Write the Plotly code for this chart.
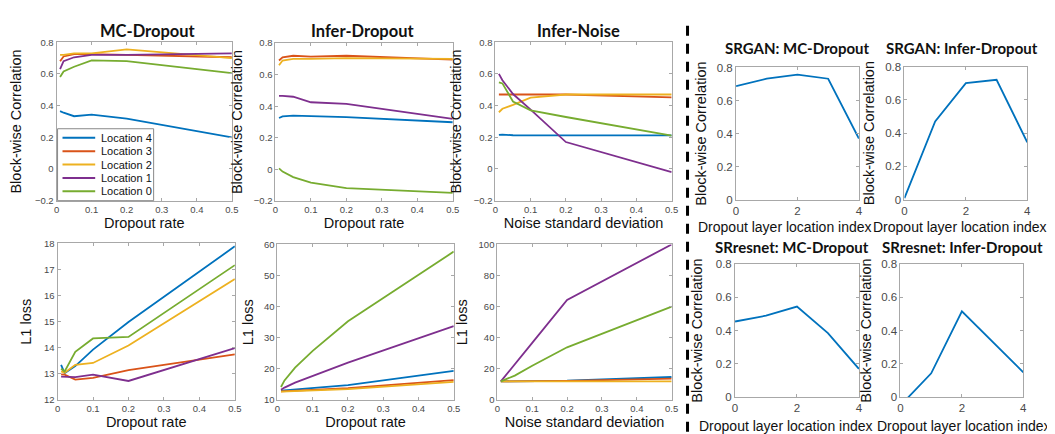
import plotly.graph_objects as go

W, H = 1055, 434

# ---------------- data ----------------
RATES = [0.01, 0.02, 0.05, 0.1, 0.2, 0.5]
NOISE_STD = [0.01, 0.02, 0.05, 0.1, 0.2, 0.5]
LOCATIONS = ["Location 4", "Location 3", "Location 2", "Location 1", "Location 0"]
COLORS = ["#0072BD", "#D95319", "#EDB120", "#7E2F8E", "#77AC30"]

MC_CORR_LOC4 = [0.365, 0.355, 0.333, 0.343, 0.318, 0.20]
MC_CORR_LOC3 = [0.68, 0.71, 0.725, 0.725, 0.72, 0.705]
MC_CORR_LOC2 = [0.72, 0.72, 0.73, 0.73, 0.755, 0.70]
MC_CORR_LOC1 = [0.63, 0.68, 0.705, 0.72, 0.72, 0.73]
MC_CORR_LOC0 = [0.58, 0.615, 0.645, 0.685, 0.68, 0.605]

ID_CORR_LOC4 = [0.325, 0.335, 0.34, 0.337, 0.33, 0.298]
ID_CORR_LOC3 = [0.69, 0.71, 0.72, 0.715, 0.72, 0.695]
ID_CORR_LOC2 = [0.66, 0.69, 0.70, 0.70, 0.705, 0.70]
ID_CORR_LOC1 = [0.465, 0.465, 0.46, 0.425, 0.415, 0.32]
ID_CORR_LOC0 = [0.005, -0.015, -0.05, -0.085, -0.12, -0.15]

IN_CORR_LOC4 = [0.215, 0.217, 0.213, 0.212, 0.212, 0.212]
IN_CORR_LOC3 = [0.47, 0.47, 0.47, 0.47, 0.47, 0.452]
IN_CORR_LOC2 = [0.358, 0.38, 0.405, 0.45, 0.47, 0.47]
IN_CORR_LOC1 = [0.60, 0.56, 0.473, 0.375, 0.17, -0.02]
IN_CORR_LOC0 = [0.546, 0.54, 0.426, 0.37, 0.328, 0.21]

MC_L1_LOC4 = [13.35, 13.03, 13.3, 13.93, 14.99, 17.89]
MC_L1_LOC3 = [12.98, 12.97, 12.78, 12.85, 13.15, 13.75]
MC_L1_LOC2 = [13.1, 13.05, 13.35, 13.42, 14.09, 16.64]
MC_L1_LOC1 = [12.9, 12.9, 12.88, 12.97, 12.73, 13.99]
MC_L1_LOC0 = [13.2, 13.1, 13.85, 14.36, 14.42, 17.17]

ID_L1_LOC4 = [13.0, 13.1, 13.4, 13.8, 14.8, 19.4]
ID_L1_LOC3 = [12.8, 12.85, 12.95, 13.2, 13.8, 16.4]
ID_L1_LOC2 = [12.7, 12.75, 12.85, 13.0, 13.5, 15.8]
ID_L1_LOC1 = [13.3, 14.0, 15.6, 17.8, 22.0, 33.75]
ID_L1_LOC0 = [14.2, 16.3, 20.4, 25.8, 35.3, 57.7]

IN_L1_LOC4 = [12.0, 12.0, 12.1, 12.2, 12.4, 14.8]
IN_L1_LOC3 = [12.0, 12.0, 12.0, 12.1, 12.3, 13.8]
IN_L1_LOC2 = [12.0, 12.0, 12.0, 12.0, 12.0, 12.0]
IN_L1_LOC1 = [12.0, 14.7, 23.0, 36.7, 64.4, 100.0]
IN_L1_LOC0 = [12.0, 13.0, 15.7, 22.0, 33.9, 60.0]

LAYER_INDEX = [0, 1, 2, 3, 4]
SRGAN_MC = [0.687, 0.732, 0.757, 0.732, 0.37]
SRGAN_INFER = [0.01, 0.47, 0.70, 0.72, 0.345]
SRRESNET_MC = [0.454, 0.489, 0.544, 0.384, 0.17]
SRRESNET_INFER = [-0.05, 0.143, 0.515, 0.335, 0.149]

# ---------------- layout helpers ----------------
def px(x):
    return x / W

def py(y):
    return 1 - y / H

TICK_FONT_S = dict(family="Liberation Sans, Arial", size=9.5, color="#4a4a4a")
TICK_FONT_L = dict(family="Liberation Sans, Arial", size=11.5, color="#4a4a4a")
LABEL_FONT = dict(family="Liberation Sans, Arial", size=14.5, color="#111111")
LABEL_FONT_R = dict(family="Liberation Sans, Arial", size=14, color="#111111")

fig = go.Figure()

panels = [
    dict(box=(46, 223, 29, 192), xr=[0, 0.5], yr=[-0.2, 0.8], xt=[0, 0.1, 0.2, 0.3, 0.4, 0.5],
         yt=[-0.2, 0, 0.2, 0.4, 0.6, 0.8], xl="Dropout rate", yl="Block-wise Correlation",
         title="MC-Dropout", tpos=(138, 17), tsize=16.5, ystand=10, x=RATES,
         ys=[MC_CORR_LOC4, MC_CORR_LOC3, MC_CORR_LOC2, MC_CORR_LOC1, MC_CORR_LOC0], small=True),
    dict(box=(267, 446, 30, 192), xr=[0, 0.5], yr=[-0.2, 0.8], xt=[0, 0.1, 0.2, 0.3, 0.4, 0.5],
         yt=[-0.2, 0, 0.2, 0.4, 0.6, 0.8], xl="Dropout rate", yl="Block-wise Correlation",
         title="Infer-Dropout", tpos=(355, 17), tsize=16.5, ystand=7, x=RATES,
         ys=[ID_CORR_LOC4, ID_CORR_LOC3, ID_CORR_LOC2, ID_CORR_LOC1, ID_CORR_LOC0], small=True),
    dict(box=(489, 667, 29, 192), xr=[0, 0.5], yr=[-0.2, 0.8], xt=[0, 0.1, 0.2, 0.3, 0.4, 0.5],
         yt=[-0.2, 0, 0.2, 0.4, 0.6, 0.8], xl="Noise standard deviation", yl="Block-wise Correlation",
         title="Infer-Noise", tpos=(573, 17), tsize=16.5, ystand=8, x=NOISE_STD,
         ys=[IN_CORR_LOC4, IN_CORR_LOC3, IN_CORR_LOC2, IN_CORR_LOC1, IN_CORR_LOC0], small=True),
    dict(box=(47, 226, 236, 397), xr=[0, 0.5], yr=[12, 18], xt=[0, 0.1, 0.2, 0.3, 0.4, 0.5],
         yt=[12, 13, 14, 15, 16, 17, 18], xl="Dropout rate", yl="L1 loss",
         title=None, tpos=None, tsize=None, ystand=8, x=RATES,
         ys=[MC_L1_LOC4, MC_L1_LOC3, MC_L1_LOC2, MC_L1_LOC1, MC_L1_LOC0], small=True),
    dict(box=(269, 447, 237, 397), xr=[0, 0.5], yr=[10, 60], xt=[0, 0.1, 0.2, 0.3, 0.4, 0.5],
         yt=[10, 20, 30, 40, 50, 60], xl="Dropout rate", yl="L1 loss",
         title=None, tpos=None, tsize=None, ystand=6, x=RATES,
         ys=[ID_L1_LOC4, ID_L1_LOC3, ID_L1_LOC2, ID_L1_LOC1, ID_L1_LOC0], small=True),
    dict(box=(491, 667, 237, 397), xr=[0, 0.5], yr=[0, 100], xt=[0, 0.1, 0.2, 0.3, 0.4, 0.5],
         yt=[0, 20, 40, 60, 80, 100], xl="Noise standard deviation", yl="L1 loss",
         title=None, tpos=None, tsize=None, ystand=7, x=NOISE_STD,
         ys=[IN_L1_LOC4, IN_L1_LOC3, IN_L1_LOC2, IN_L1_LOC1, IN_L1_LOC0], small=True),
    dict(box=(732, 856, 55, 191), xr=[0, 4], yr=[0, 0.8], xt=[0, 2, 4], yt=[0, 0.2, 0.4, 0.6, 0.8],
         xl="Dropout layer location index", xlpos=(781, 219), yl="Block-wise Correlation",
         title="SRGAN: MC-Dropout", tpos=(794, 35), tsize=15, ystand=6, x=LAYER_INDEX,
         ys=[SRGAN_MC], small=False),
    dict(box=(902, 1026, 54, 191), xr=[0, 4], yr=[0, 0.8], xt=[0, 2, 4], yt=[0, 0.2, 0.4, 0.6, 0.8],
         xl="Dropout layer location index", xlpos=(958, 219), yl="Block-wise Correlation",
         title="SRGAN: Infer-Dropout", tpos=(960, 35), tsize=15, ystand=7, x=LAYER_INDEX,
         ys=[SRGAN_INFER], small=False),
    dict(box=(731, 856, 257, 394), xr=[0, 4], yr=[0, 0.8], xt=[0, 2, 4], yt=[0, 0.2, 0.4, 0.6, 0.8],
         xl="Dropout layer location index", xlpos=(782, 424), yl="Block-wise Correlation",
         title="SRresnet: MC-Dropout", tpos=(788, 240), tsize=15, ystand=9, x=LAYER_INDEX,
         ys=[SRRESNET_MC], small=False),
    dict(box=(898, 1022, 257, 394), xr=[0, 4], yr=[0, 0.8], xt=[0, 2, 4], yt=[0, 0.2, 0.4, 0.6, 0.8],
         xl="Dropout layer location index", xlpos=(962, 424), yl="Block-wise Correlation",
         title="SRresnet: Infer-Dropout", tpos=(961, 240), tsize=15, ystand=6, x=LAYER_INDEX,
         ys=[SRRESNET_INFER], small=False),
]

annotations = []
shapes = []
layout_axes = {}

for i, p in enumerate(panels):
    n = i + 1
    xa = "x" if n == 1 else f"x{n}"
    ya = "y" if n == 1 else f"y{n}"
    l, r, t, b = p["box"]
    tf = TICK_FONT_S if p["small"] else TICK_FONT_L
    common = dict(showline=True, mirror="ticks", linecolor="#a8a8a8", linewidth=1,
                  ticks="inside", ticklen=3, tickcolor="#a8a8a8", showgrid=False,
                  zeroline=False, tickfont=tf, fixedrange=True)
    if "xlpos" in p:
        xtitle = dict(text="")
        annotations.append(dict(text=p["xl"], x=px(p["xlpos"][0]), y=py(p["xlpos"][1]),
                                xref="paper", yref="paper", showarrow=False,
                                xanchor="center", yanchor="middle", font=LABEL_FONT_R))
    else:
        xtitle = dict(text=p["xl"], font=LABEL_FONT, standoff=3)
    layout_axes["xaxis" if n == 1 else f"xaxis{n}"] = dict(
        domain=[px(l), px(r)], anchor=ya, range=p["xr"], tickvals=p["xt"],
        title=xtitle, **common)
    layout_axes["yaxis" if n == 1 else f"yaxis{n}"] = dict(
        domain=[py(b), py(t)], anchor=xa, range=p["yr"], tickvals=p["yt"],
        title=dict(text=p["yl"], font=LABEL_FONT, standoff=p["ystand"]), **common)
    for k, yv in enumerate(p["ys"]):
        fig.add_trace(go.Scatter(x=p["x"], y=yv, mode="lines", xaxis=xa, yaxis=ya,
                                 line=dict(color=COLORS[k], width=1.8),
                                 name=LOCATIONS[k], showlegend=False))
    if p["title"]:
        annotations.append(dict(text=f"<b>{p['title']}</b>", x=px(p["tpos"][0]), y=py(p["tpos"][1]),
                                xref="paper", yref="paper", showarrow=False,
                                xanchor="center", yanchor="middle",
                                font=dict(family="Lato, Open Sans", size=p["tsize"], color="#111111")))

# legend box inside the first panel (MATLAB style)
leg_l, leg_r, leg_t, leg_b = 47, 144, 118, 192
shapes.append(dict(type="rect", xref="paper", yref="paper", x0=px(leg_l), x1=px(leg_r),
                   y0=py(leg_b), y1=py(leg_t), line=dict(color="#888888", width=1),
                   fillcolor="white", layer="above"))
for k, name in enumerate(LOCATIONS):
    yy = 127.3 + k * 13.75
    shapes.append(dict(type="line", xref="paper", yref="paper", x0=px(52), x1=px(85),
                       y0=py(yy), y1=py(yy), line=dict(color=COLORS[k], width=2), layer="above"))
    annotations.append(dict(text=name, x=px(89), y=py(yy), xref="paper", yref="paper",
                            showarrow=False, xanchor="left", yanchor="middle",
                            font=dict(family="Liberation Sans, Arial", size=11, color="#111111")))

# dashed separator
shapes.append(dict(type="line", xref="paper", yref="paper", x0=px(683), x1=px(683),
                   y0=py(12), y1=py(434), line=dict(color="black", width=3, dash="10px,8px")))

fig.update_layout(width=W, height=H, margin=dict(l=0, r=0, t=0, b=0),
                  paper_bgcolor="white", plot_bgcolor="white", showlegend=False,
                  annotations=annotations, shapes=shapes, **layout_axes)

fig.write_html("out.html")
